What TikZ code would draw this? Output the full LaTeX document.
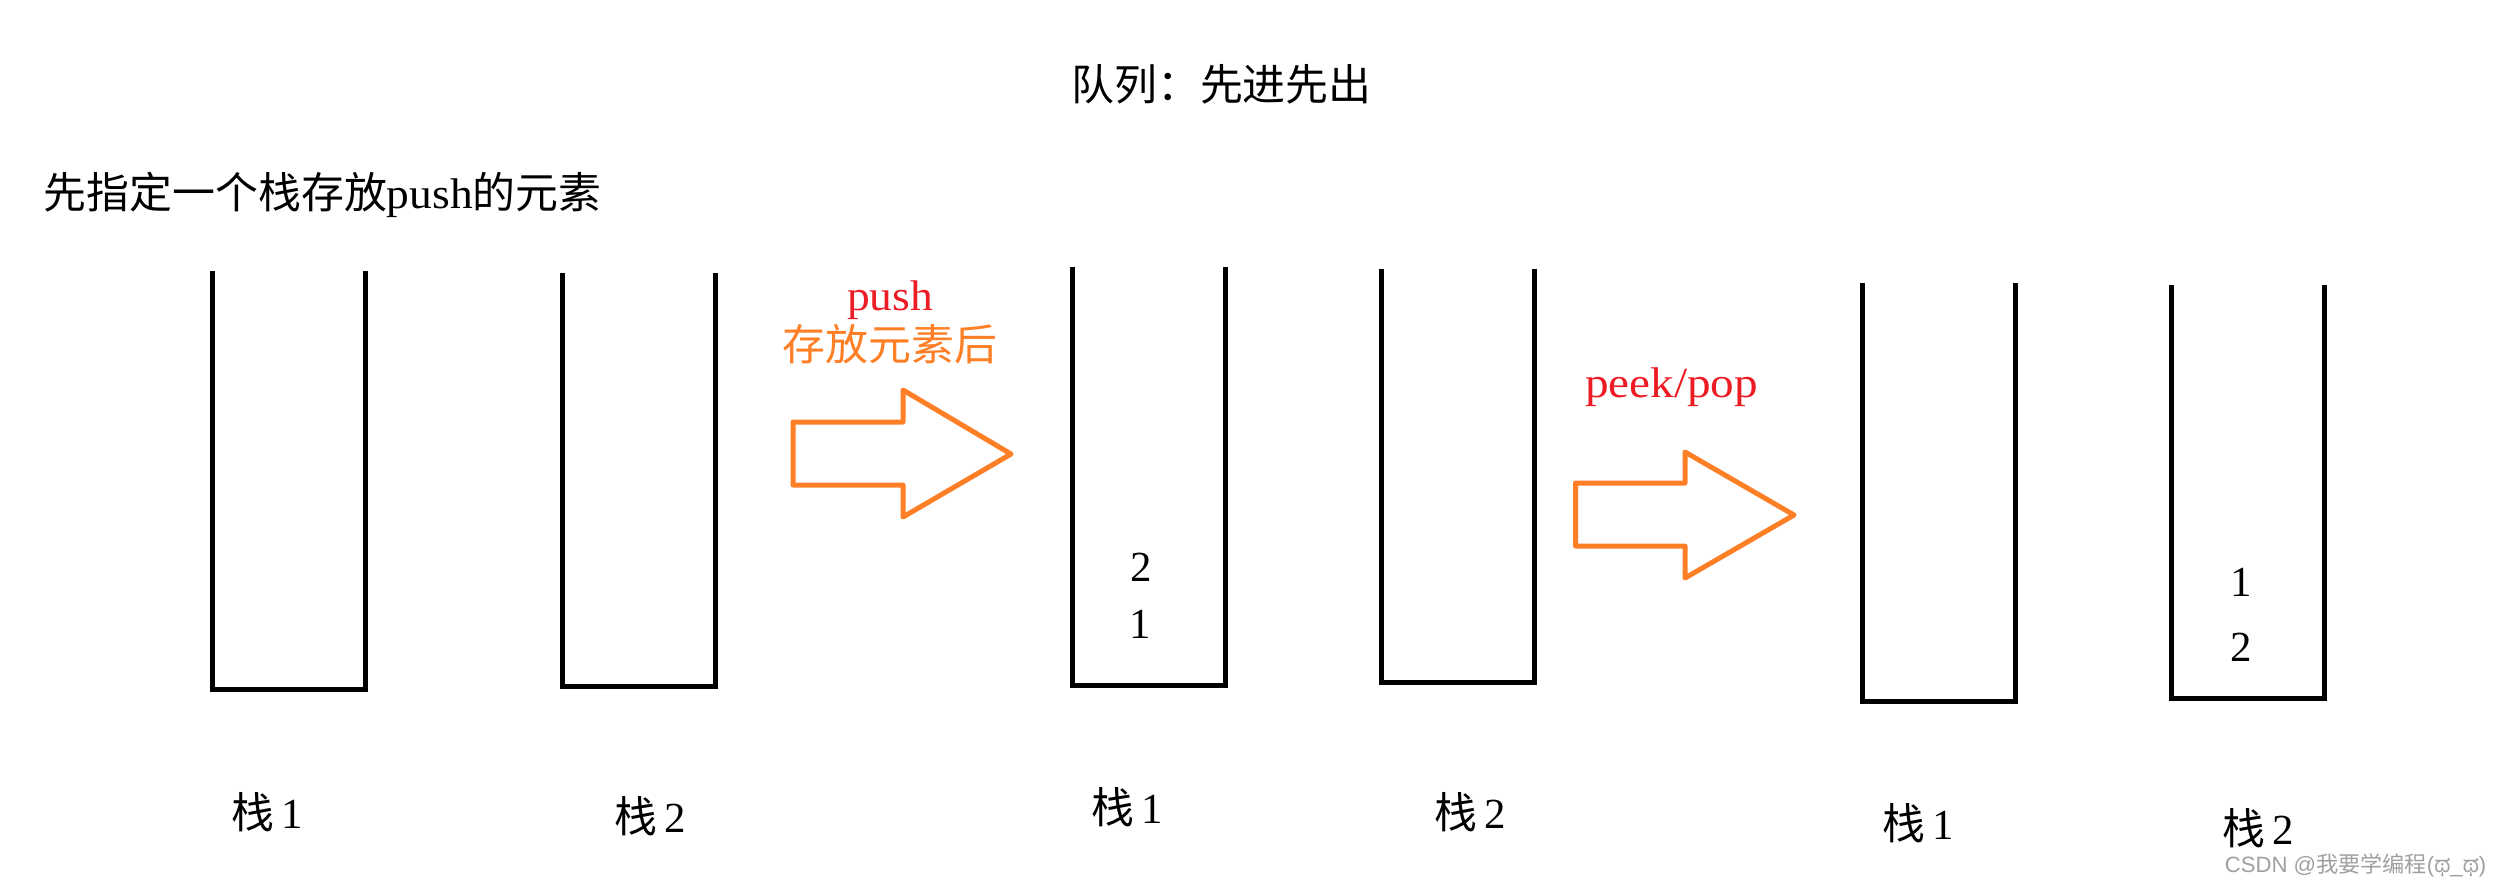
\documentclass[tikz,border=0pt]{standalone}
\usepackage{fontspec}
\usepackage{graphicx}
\setmainfont{Liberation Serif}
\newfontfamily\cjk{Noto Sans CJK SC}
\newfontfamily\wmsans{Liberation Sans}
\newfontfamily\kan[Script=Kannada]{Hind Mysuru}
\definecolor{arrorange}{RGB}{255,127,39}
\definecolor{txtred}{RGB}{237,28,36}
\definecolor{wmgray}{RGB}{160,160,160}
\begin{document}
\begin{tikzpicture}[x=0.01cm,y=-0.01cm,
  stk/.style={line width=0.05cm, line join=miter, draw=black},
  bigarrow/.style={line width=0.05cm, draw=arrorange, line join=round},
  txt/.style={inner sep=0pt, font=\fontsize{12.2pt}{14pt}\selectfont},
]
\useasboundingbox[fill=white] (0,0) rectangle (2501,884);

% stacks
\foreach \n/\l/\r/\t/\b in {a1/212.3/365.4/271/689.5, a2/562.5/715.5/273/686.5,
  b1/1072.5/1225.4/267/685.5, b2/1381.4/1534.6/269/682.3,
  c1/1862.5/2015.5/283/701.3, c2/2171.5/2324.5/285/698.3}{
  \coordinate (\n-tl) at (\l,\t);
  \coordinate (\n-bl) at (\l,\b);
  \coordinate (\n-br) at (\r,\b);
  \coordinate (\n-tr) at (\r,\t);
  \draw[stk] (\n-tl) -- (\n-bl) -- (\n-br) -- (\n-tr);
}

% texts
\node[txt] (title) at (1221.5,84) {{\cjk 队列：先进先出}};
\node[txt,anchor=west] (sub) at (43,195) {{\cjk 先指定一个栈存放}\scalebox{1.06}[1]{push}{\cjk 的元素}};
\node[txt,text=txtred] (push) at (890,300.5) {\scalebox{1.06}[1]{push}};
\node[txt,text=arrorange] (store) at (890,344) {{\cjk 存放元素后}};
\node[txt,text=txtred] (peek) at (1671.5,387) {\scalebox{1.1}[1]{peek/pop}};

% arrows
\coordinate (p1) at (793,422);
\coordinate (p2) at (903,422);
\coordinate (p3) at (903,390);
\coordinate (p4) at (1011,454);
\coordinate (p5) at (903,517);
\coordinate (p6) at (903,485);
\coordinate (p7) at (793,485);
\draw[bigarrow] (p1) -- (p2) -- (p3) -- (p4) -- (p5) -- (p6) -- (p7) -- cycle;
\coordinate (q1) at (1575.5,483);
\coordinate (q2) at (1685,483);
\coordinate (q3) at (1685,452);
\coordinate (q4) at (1794,515);
\coordinate (q5) at (1685,578);
\coordinate (q6) at (1685,546);
\coordinate (q7) at (1575.5,546);
\draw[bigarrow] (q1) -- (q2) -- (q3) -- (q4) -- (q5) -- (q6) -- (q7) -- cycle;

% contents
\node[txt] (b1two) at (1141,567) {2};
\node[txt] (b1one) at (1140,624) {1};
\node[txt] (c2one) at (2241,582) {1};
\node[txt] (c2two) at (2241,647) {2};

% labels
\node[txt] (la1) at (267,812) {{\cjk 栈}\,1};
\node[txt] (la2) at (650,816) {{\cjk 栈}\,2};
\node[txt] (lb1) at (1127,807) {{\cjk 栈}\,1};
\node[txt] (lb2) at (1470,812) {{\cjk 栈}\,2};
\node[txt] (lc1) at (1918,823) {{\cjk 栈}\,1};
\node[txt] (lc2) at (2258,828) {{\cjk 栈}\,2};

% watermark
\node[inner sep=0pt, anchor=east, text=wmgray, font=\fontsize{6.3pt}{7pt}\selectfont] (wm) at (2487,865)
  {{\wmsans CSDN @}{\cjk 我要学编程}{\wmsans (}{\kan ಥ}{\wmsans \_}{\kan ಥ}{\wmsans )}};
\end{tikzpicture}
\end{document}
